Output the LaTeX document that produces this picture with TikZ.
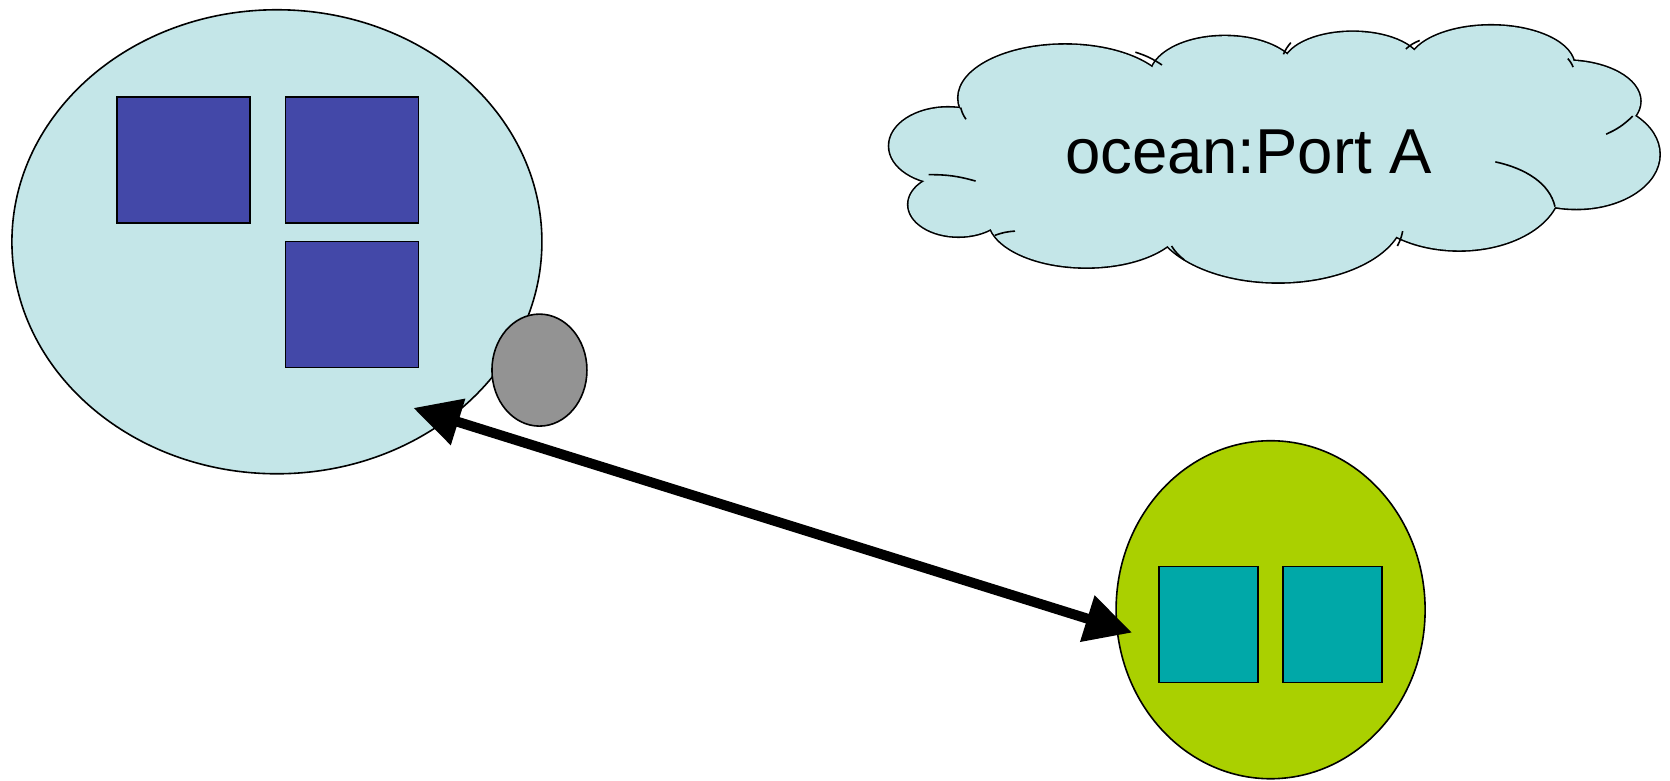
\documentclass[tikz,border=0pt]{standalone}
\usepackage{fontspec}
\setmainfont{Liberation Sans}
\usetikzlibrary{arrows.meta,shapes.geometric}
\definecolor{paleblue}{RGB}{196,230,232}
\definecolor{darkblue}{RGB}{67,72,168}
\definecolor{portgray}{RGB}{147,147,147}
\definecolor{limegreen}{RGB}{170,208,0}
\definecolor{tealc}{RGB}{0,168,168}
\begin{document}
\begin{tikzpicture}[x=1.065pt,y=-1.065pt,
  outl/.style={draw=black,line width=1.6pt},
  bigell/.style={ellipse,outl,fill=paleblue,inner sep=0pt},
  bluesq/.style={rectangle,outl,fill=darkblue,inner sep=0pt,minimum width=133pt,minimum height=126pt},
  tealsq/.style={rectangle,outl,fill=tealc,inner sep=0pt,minimum width=99pt,minimum height=116pt},
  puff/.style={draw=black,line width=3.2pt,fill=paleblue},
  puffin/.style={fill=paleblue},
  seam/.style={draw=black,line width=1.6pt},
  conn/.style={line width=10pt,{Triangle[length=47pt,width=46pt]}-{Triangle[length=47pt,width=46pt]}}
]
\useasboundingbox (0,0) rectangle (1568,733);
\fill[white] (0,0) rectangle (1568,733);

% cloud outlines
\foreach \cx/\cy/\rx/\ry in {890/137/55/36, 900/192/47/30, 1020/205/92/46, 1200/200/118/65,
  1370/175/95/60, 1480/145/78/51, 1470/95/70/38, 1400/62/78/38, 1270/62/65/32, 1150/72/70/38, 1000/92/100/50}
  \path[puff] (\cx,\cy) ellipse [x radius=\rx, y radius=\ry];
\foreach \cx/\cy/\rx/\ry in {890/137/55/36, 900/192/47/30, 1020/205/92/46, 1200/200/118/65,
  1370/175/95/60, 1480/145/78/51, 1470/95/70/38, 1400/62/78/38, 1270/62/65/32, 1150/72/70/38, 1000/92/100/50,
  1195/150/290/75, 1320/105/90/45, 1140/105/90/45}
  \path[puffin] (\cx,\cy) ellipse [x radius=\rx, y radius=\ry];
% inner seams of the cloud
\draw[seam] (902,101) to[bend right=10] (907,112);
\draw[seam] (872,164) to[bend left=8] (916,170);
\draw[seam] (934,221) to[bend left=8] (953,217);
\draw[seam] (1100,231) to[bend right=10] (1112,244);
\draw[seam] (1317,217) to[bend left=8] (1312,231);
\draw[seam] (1404,152) .. controls (1432,158) and (1455,172) .. (1460,194);
\draw[seam] (1508,126) to[bend right=10] (1533,109);
\draw[seam] (1472,55) to[bend left=10] (1477,63);
\draw[seam] (1320,46) to[bend left=10] (1333,38);
\draw[seam] (1205,51) to[bend left=8] (1212,40);
\draw[seam] (1066,49) to[bend left=8] (1091,61);
\node[anchor=base,font=\fontsize{63.5}{70}\selectfont,inner sep=0pt] (oceanlabel) at (1172.3,162.7) {ocean:Port A};

% left component
\node[bigell,minimum width=530pt,minimum height=464pt] (comp) at (260,227) {};
\node[bluesq] (sqa) at (172.5,150) {};
\node[bluesq] (sqb) at (330.5,150) {};
\node[bluesq] (sqc) at (330.5,286) {};
\node[ellipse,outl,fill=portgray,inner sep=0pt,minimum width=95pt,minimum height=112pt] (port) at (506.5,347.5) {};

% right component
\node[ellipse,outl,fill=limegreen,inner sep=0pt,minimum width=309pt,minimum height=338pt] (green) at (1193,572.5) {};
\node[tealsq] (tsa) at (1134.5,586.5) {};
\node[tealsq] (tsb) at (1251,586.5) {};

% connector
\coordinate (endL) at (388,383);
\coordinate (endR) at (1063,594);
\draw[conn] (endL) -- (endR);
\end{tikzpicture}
\end{document}
